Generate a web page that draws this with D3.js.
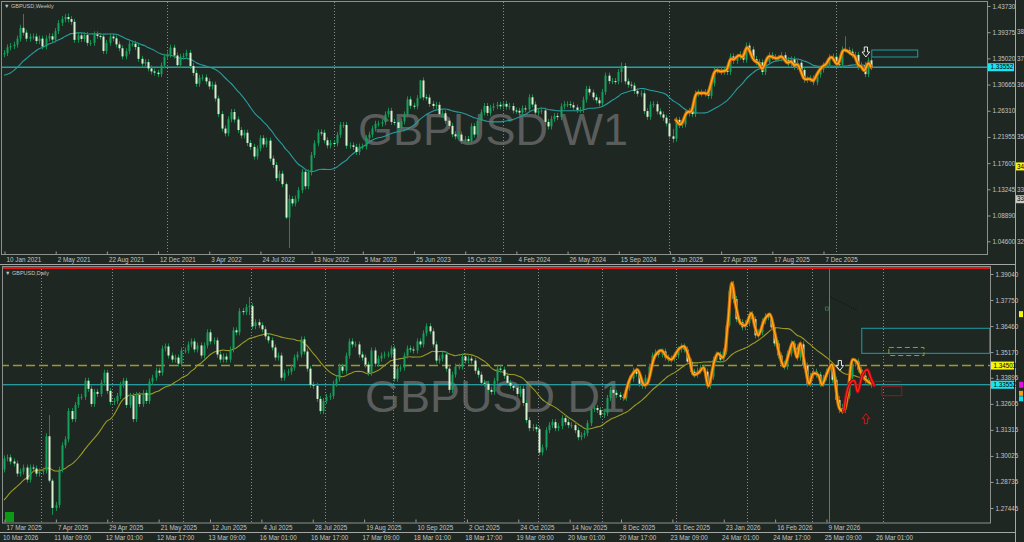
<!DOCTYPE html>
<html>
<head>
<meta charset="utf-8">
<script src="https://cdn.jsdelivr.net/npm/d3@7"></script>
<style>
html, body { margin: 0; padding: 0; background: #1f2722; }
svg { display: block; }
text { font-family: "Liberation Sans", Arial, sans-serif; }
</style>
</head>
<body>
<svg id="chart" width="1024" height="542"></svg>
<script>
// ---- weekly GBPUSD (bar 0 = week of 10 Jan 2021) ----
const weeklyPrior = [1.3350,1.3275,1.2975,1.2930,1.2900,1.2790,1.2935,1.2945,1.3045,1.2960,1.3150,1.3285,1.3250,1.3325,1.3450,1.3440,1.3595,1.3670,1.3570];
const weeklyClose = [
  // 2021
  1.3590,1.3685,1.3705,1.3730,1.3830,1.4010,1.3930,1.3830,1.3865,1.3865,1.3790,1.3830,1.3700,1.3835,1.3870,1.3815,1.3955,1.4090,1.4155,1.4190,1.4155,1.4110,1.3810,1.3885,1.3825,1.3890,1.3760,1.3760,1.3900,1.3875,1.3865,1.3625,1.3760,1.3865,1.3835,1.3735,1.3670,1.3535,1.3620,1.3745,1.3745,1.3690,1.3495,1.3415,1.3440,1.3335,1.3285,1.3265,1.3240,1.3385,1.3530,
  // 2022
  1.3565,1.3680,1.3550,1.3390,1.3530,1.3540,1.3595,1.3375,1.3260,1.3080,1.3180,1.3185,1.3120,1.3035,1.3065,1.2835,1.2575,1.2335,1.2255,1.2490,1.2610,1.2485,1.2310,1.2220,1.2265,1.2095,1.2030,1.1870,1.2005,1.2175,1.2070,1.2135,1.1835,1.1730,1.1510,1.1585,1.1410,1.0855,1.1165,1.1090,1.1170,1.1310,1.1615,1.1375,1.1605,1.1895,1.2090,1.2270,1.2265,1.2140,1.2055,1.2095,
  // 2023
  1.2090,1.2230,1.2395,1.2395,1.2050,1.2055,1.2030,1.1945,1.2035,1.2035,1.2175,1.2235,1.2335,1.2415,1.2415,1.2440,1.2570,1.2630,1.2445,1.2440,1.2345,1.2455,1.2570,1.2820,1.2715,1.2705,1.2840,1.3135,1.2855,1.2850,1.2745,1.2710,1.2730,1.2575,1.2590,1.2465,1.2380,1.2240,1.2205,1.2235,1.2130,1.2160,1.2125,1.2375,1.2235,1.2460,1.2605,1.2710,1.2595,1.2680,1.2705,1.2730,
  // 2024
  1.2705,1.2745,1.2700,1.2710,1.2635,1.2630,1.2600,1.2670,1.2655,1.2855,1.2735,1.2600,1.2625,1.2635,1.2445,1.2370,1.2495,1.2545,1.2525,1.2705,1.2740,1.2740,1.2725,1.2685,1.2645,1.2645,1.2815,1.2995,1.2935,1.2855,1.2805,1.2755,1.2945,1.3215,1.3125,1.3125,1.3120,1.3275,1.3375,1.3120,1.3065,1.3050,1.2960,1.2915,1.2920,1.2625,1.2530,1.2735,1.2740,1.2620,1.2570,1.2515,
  // 2025
  1.2420,1.2205,1.2165,1.2480,1.2395,1.2405,1.2585,1.2630,1.2575,1.2915,1.2935,1.2915,1.2940,1.2880,1.3085,1.3295,1.3310,1.3275,1.3300,1.3275,1.3535,1.3460,1.3530,1.3570,1.3480,1.3715,1.3650,1.3490,1.3440,1.3435,1.3275,1.3445,1.3555,1.3525,1.3505,1.3500,1.3555,1.3475,1.3405,1.3485,1.3360,1.3430,1.3310,1.3145,1.3155,1.3170,1.3105,1.3230,1.3315,1.3385,1.3390,1.3520,1.3530,
  // 2026
  1.3405,1.3395,1.3650,1.3640,1.3615,1.3560,1.3560,1.3360,1.3390,1.3240,1.3470,1.3355
];
// [bar, high, low] for the bars with long shadows
const weeklyWicks = [[6,1.4240,1.3880],[20,1.4250,1.4100],[88,1.1440,1.0830],[89,1.1235,1.0350],[130,1.3145,1.2830],[193,1.3435,1.3100],[209,1.2330,1.2100],[263,1.3870,1.3600]];
const weeklyDates = ['10 Jan 2021','2 May 2021','22 Aug 2021','12 Dec 2021','3 Apr 2022','24 Jul 2022','13 Nov 2022','5 Mar 2023','25 Jun 2023','15 Oct 2023','4 Feb 2024','26 May 2024','15 Sep 2024','5 Jan 2025','27 Apr 2025','17 Aug 2025','7 Dec 2025'];
const weeklyPriceTicks = [1.43730,1.39375,1.35020,1.30665,1.26310,1.21955,1.17600,1.13245,1.08890,1.04600];

// ---- daily GBPUSD (bar 0 = 17 Mar 2025) ----
const dailyPrior = [1.2615,1.2590,1.2665,1.2630,1.2625,1.2630,1.2655,1.2670,1.2580,1.2795,1.2905,1.2895,1.2915,1.2890,1.2920,1.2880,1.2945,1.2935,1.2935];
const dailyClose = [
  1.2990,1.2995,1.2975,1.2965,1.2915, 1.2925,1.2945,1.2885,1.2945,1.2940, 1.2915,1.2925,1.2930,1.3100,1.2880, 1.2745,1.2760,1.2935,1.3055,1.3085,
  1.3225,1.3185,1.3255,1.3295,1.3295, 1.3375,1.3335,1.3260,1.3320,1.3310, 1.3365,1.3415,1.3325,1.3270,1.3275, 1.3300,1.3355,1.3375,1.3255,1.3300,
  1.3185,1.3305,1.3260,1.3315,1.3275, 1.3370,1.3390,1.3425,1.3415,1.3535, 1.3545,1.3500,1.3480,1.3490,1.3460, 1.3525,1.3525,1.3555,1.3570,1.3530,
  1.3550,1.3500,1.3550,1.3615,1.3570, 1.3575,1.3505,1.3480,1.3495,1.3480, 1.3530,1.3625,1.3615,1.3720,1.3715, 1.3740,1.3745,1.3645,1.3665,1.3650,
  1.3630,1.3595,1.3575,1.3540,1.3490, 1.3500,1.3390,1.3415,1.3420,1.3440, 1.3490,1.3505,1.3580,1.3520,1.3435, 1.3355,1.3350,1.3285,1.3225,1.3275,
  1.3295,1.3300,1.3360,1.3385,1.3445, 1.3425,1.3500,1.3570,1.3555,1.3555, 1.3505,1.3490,1.3455,1.3415,1.3525, 1.3460,1.3485,1.3500,1.3505,1.3505,
  1.3535,1.3385,1.3435,1.3440,1.3500, 1.3535,1.3530,1.3525,1.3570,1.3555, 1.3610,1.3645,1.3620,1.3555,1.3475, 1.3485,1.3505,1.3435,1.3330,1.3405,
  1.3445,1.3445,1.3495,1.3475,1.3485, 1.3475,1.3425,1.3405,1.3365,1.3360, 1.3330,1.3320,1.3375,1.3435,1.3430, 1.3400,1.3365,1.3350,1.3340,1.3310,
  1.3335,1.3265,1.3180,1.3140,1.3145, 1.3135,1.3020,1.3045,1.3130,1.3155, 1.3170,1.3140,1.3150,1.3190,1.3170, 1.3155,1.3155,1.3130,1.3095,1.3105,
  1.3115,1.3165,1.3235,1.3240,1.3230,
  1.3205,1.3215,1.3290,1.3330,1.3315, 1.3305,1.3295,1.3290,1.3340,1.3385, 1.3425,1.3410,1.3360,1.3350,1.3390, 1.3445,1.3500,1.3515,1.3505,1.3520,
  1.3490,1.3480,1.3485,1.3500,1.3530, 1.3545,1.3530,1.3470,1.3420,1.3405, 1.3425,1.3440,1.3420,1.3350,1.3395, 1.3480,1.3505,1.3480,1.3520,1.3650,
  1.3820,1.3780,1.3680,1.3665,1.3640, 1.3660,1.3705,1.3680,1.3600,1.3615, 1.3670,1.3695,1.3690,1.3640,1.3560, 1.3500,1.3460,1.3445,1.3510,1.3560,
  1.3540,1.3490,1.3555,1.3450,1.3360, 1.3400,1.3420,1.3405,1.3360,1.3390, 1.3420,1.3445,1.3380,1.3280,1.3240, 1.3230,1.3300,1.3390,1.3460,1.3470,
  1.3430,1.3400,1.3375,1.3365,1.3355
];
const dailyWicks = [[14,1.3205,1.2870],[15,1.2890,1.2710],[76,1.3790,1.3700],[225,1.3830,1.3640],[226,1.3870,1.3760],[259,1.3300,1.3215],[260,1.3260,1.3210]];
const dailyDates = ['17 Mar 2025','7 Apr 2025','29 Apr 2025','21 May 2025','12 Jun 2025','4 Jul 2025','28 Jul 2025','19 Aug 2025','10 Sep 2025','2 Oct 2025','24 Oct 2025','14 Nov 2025','8 Dec 2025','31 Dec 2025','23 Jan 2026','16 Feb 2026','9 Mar 2026'];
const dailyPriceTicks = [1.39040,1.37750,1.36460,1.35170,1.33895,1.32605,1.31315,1.30025,1.28735,1.27445];
// smoothed swing line and the short red one, [bar, price]
const dailySwing = [[192.5,1.3290],[194.5,1.3395],[196.5,1.3430],[198.5,1.3355],[199.5,1.3360],[202,1.3500],[204,1.3525],[205.5,1.3495],[207,1.3480],[209.5,1.3535],[211,1.3545],[212.5,1.3490],[214,1.3405],[215.5,1.3415],[217,1.3440],[218.5,1.3350],[220.5,1.3480],[221.5,1.3510],[223,1.3490],[224.5,1.3650],[225.8,1.3860],[227,1.3750],[228.5,1.3660],[230,1.3650],[231.8,1.3710],[233,1.3640],[234,1.3600],[236,1.3680],[237.5,1.3705],[239,1.3620],[240.5,1.3510],[242,1.3445],[243.5,1.3510],[244.7,1.3565],[246,1.3490],[247,1.3560],[248.5,1.3450],[249.8,1.3360],[251,1.3410],[252.5,1.3405],[253.8,1.3355],[255,1.3400],[256.8,1.3455],[258,1.3350],[259.3,1.3235],[260.5,1.3225],[262,1.3340],[263.3,1.3480],[264.5,1.3470],[266,1.3410],[268,1.3370],[269.5,1.3360]];
const dailyRed = [[260.5,1.3225],[262.5,1.3365],[263.8,1.3375],[264.8,1.3320],[266.5,1.3410],[267.8,1.3430],[269,1.3385],[270,1.3350]];

// ---- levels and objects ----
const bidLevel = 1.33552;
const dashLevel = 1.34503;
const hourlyDates = ['10 Mar 2026','11 Mar 09:00','12 Mar 01:00','12 Mar 17:00','13 Mar 09:00','16 Mar 01:00','16 Mar 17:00','17 Mar 09:00','18 Mar 01:00','18 Mar 17:00','19 Mar 09:00','20 Mar 01:00','20 Mar 17:00','23 Mar 09:00','24 Mar 01:00','24 Mar 17:00','25 Mar 09:00','26 Mar 01:00'];
const sideLabels = [['38',1.39375],['37',1.35020],['36',1.30665],['35',1.21955],['33',1.13245],['32',1.04600]];

const W = 1024, H = 542;
const bg = '#1f2722';
const axisColor = '#c2c4c2';
const borderColor = '#8d918e';
const bullColor = '#15a05c', bearColor = '#d6f2cf', wickColor = '#188d50';

const svg = d3.select('#chart');
svg.append('rect').attr('width', W).attr('height', H).attr('fill', bg);

// scales
const xW = d3.scaleLinear().domain([0, 256]).range([4, 823]);
const yW = d3.scaleLinear().domain([1.04600, 1.43730]).range([241.3, 6]);
const xD = d3.scaleLinear().domain([0, 255]).range([4, 826]);
const yD = d3.scaleLinear().domain([1.27445, 1.39040]).range([508, 274]);

const defs = svg.append('defs');
defs.append('clipPath').attr('id', 'clipW').append('rect').attr('x', 2).attr('y', 2).attr('width', 985).attr('height', 252);
defs.append('clipPath').attr('id', 'clipD').append('rect').attr('x', 3).attr('y', 269).attr('width', 987).attr('height', 254);

const gW = svg.append('g').attr('clip-path', 'url(#clipW)');
const gD = svg.append('g').attr('clip-path', 'url(#clipD)');

function toCandles(prior, closes) {
  let prev = prior[prior.length - 1];
  return closes.map((c, i) => { const o = prev; prev = c; return { i, o, c }; });
}
function sma(prior, closes, n) {
  const all = prior.concat(closes);
  return closes.map((c, i) => {
    const k = i + prior.length;
    return [i, d3.mean(all.slice(Math.max(0, k - n + 1), k + 1))];
  });
}

// period separators (dotted): new year on weekly, new month on daily
const weekStart = new Date(2021, 0, 10);
const yearBars = d3.range(1, weeklyClose.length).filter(i =>
  d3.timeWeek.offset(weekStart, i).getFullYear() !== d3.timeWeek.offset(weekStart, i - 1).getFullYear());
gW.selectAll('line.sep').data(yearBars).join('line')
  .attr('x1', d => Math.round(xW(d)) + 0.5).attr('x2', d => Math.round(xW(d)) + 0.5)
  .attr('y1', 2).attr('y2', 254)
  .attr('stroke', '#8a8a8a').attr('stroke-dasharray', '1,2');

const dayDates = [];
{ let d = new Date(2025, 2, 17); while (dayDates.length < 290) { const w = d.getDay(); if (w !== 0 && w !== 6) dayDates.push(new Date(d)); d = d3.timeDay.offset(d, 1); } }
const monthBars = d3.range(1, dayDates.length).filter(i => dayDates[i].getMonth() !== dayDates[i - 1].getMonth());
gD.selectAll('line.sep').data(monthBars).join('line')
  .attr('x1', d => Math.round(xD(d)) + 2.5).attr('x2', d => Math.round(xD(d)) + 2.5)
  .attr('y1', 269).attr('y2', 523)
  .attr('stroke', '#8a8a8a').attr('stroke-dasharray', '1,2');

// watermarks
gW.append('text').attr('x', 493).attr('y', 145).attr('text-anchor', 'middle')
  .attr('font-size', 45).attr('fill', '#707070').attr('fill-opacity', 0.75).text('GBPUSD W1');
gD.append('text').attr('x', 495).attr('y', 412).attr('text-anchor', 'middle')
  .attr('font-size', 45).attr('fill', '#707070').attr('fill-opacity', 0.75).text('GBPUSD D1');

// level lines
gW.append('line').attr('x1', 0).attr('x2', 987).attr('y1', yW(bidLevel)).attr('y2', yW(bidLevel))
  .attr('stroke', '#1fa3a6').attr('stroke-width', 1.6);
gD.append('line').attr('x1', 0).attr('x2', 990).attr('y1', yD(dashLevel)).attr('y2', yD(dashLevel))
  .attr('stroke', '#9c9a2c').attr('stroke-width', 1.4).attr('stroke-dasharray', '9,4');
gD.append('line').attr('x1', 0).attr('x2', 990).attr('y1', yD(bidLevel)).attr('y2', yD(bidLevel))
  .attr('stroke', '#2cc0c8').attr('stroke-width', 1.2);
// vertical line at H1 start
gD.append('line').attr('x1', Math.round(xD(256)) + 0.5).attr('x2', Math.round(xD(256)) + 0.5)
  .attr('y1', 269).attr('y2', 523).attr('stroke', '#2e9a44').attr('stroke-width', 1);

function drawCandles(g, data, x, y, wicks) {
  const wm = new Map(wicks.map(w => [w[0], w]));
  const hi = d => wm.has(d.i) ? y(wm.get(d.i)[1]) : y(Math.max(d.o, d.c)) - 3;
  const lo = d => wm.has(d.i) ? y(wm.get(d.i)[2]) : y(Math.min(d.o, d.c)) + 3;
  g.append('g').selectAll('line').data(data).join('line')
    .attr('x1', d => Math.round(x(d.i)) + 0.5).attr('x2', d => Math.round(x(d.i)) + 0.5)
    .attr('y1', hi).attr('y2', lo)
    .attr('stroke', wickColor).attr('stroke-width', 1);
  g.append('g').selectAll('rect').data(data).join('rect')
    .attr('x', d => Math.round(x(d.i)) - 0.5)
    .attr('width', 2)
    .attr('y', d => y(Math.max(d.o, d.c)))
    .attr('height', d => Math.max(1, y(Math.min(d.o, d.c)) - y(Math.max(d.o, d.c))))
    .attr('fill', d => d.c >= d.o ? bullColor : bearColor);
}

// moving averages
const maLine = (x, y) => d3.line().x(d => x(d[0])).y(d => y(d[1])).curve(d3.curveMonotoneX);
gW.append('path').attr('d', maLine(xW, yW)(sma(weeklyPrior, weeklyClose, 20)))
  .attr('fill', 'none').attr('stroke', '#279d9f').attr('stroke-width', 1.1);
gD.append('path').attr('d', maLine(xD, yD)(sma(dailyPrior, dailyClose, 20)))
  .attr('fill', 'none').attr('stroke', '#9b9a24').attr('stroke-width', 1.1);

drawCandles(gW, toCandles(weeklyPrior, weeklyClose), xW, yW, weeklyWicks);
drawCandles(gD, toCandles(dailyPrior, dailyClose), xD, yD, dailyWicks);

function glowLine(g, pts, x, y, outer, inner, curve) {
  const line = d3.line().x(d => x(d[0])).y(d => y(d[1])).curve(curve);
  g.append('path').attr('d', line(pts)).attr('fill', 'none').attr('stroke', outer)
    .attr('stroke-width', 3.4).attr('stroke-linejoin', 'round').attr('stroke-linecap', 'round');
  g.append('path').attr('d', line(pts)).attr('fill', 'none').attr('stroke', inner)
    .attr('stroke-width', 1.5).attr('stroke-linejoin', 'round');
}
glowLine(gW, weeklyClose.slice(210).map((c, k) => [210 + k, c]), xW, yW, '#c8650a', '#ffae14', d3.curveBasis);
glowLine(gD, dailySwing, xD, yD, '#c8650a', '#ffae14', d3.curveCatmullRom.alpha(0.5));
glowLine(gD, dailyRed, xD, yD, '#9c0d0d', '#ff2020', d3.curveCatmullRom.alpha(0.5));

// chart objects
function box(g, x, y, i0, i1, p0, p1, stroke, dash) {
  g.append('rect').attr('x', x(i0)).attr('y', y(p1)).attr('width', x(i1) - x(i0)).attr('height', y(p0) - y(p1))
    .attr('fill', 'none').attr('stroke', stroke).attr('stroke-width', 1).attr('stroke-dasharray', dash || null);
}
box(gW, xW, yW, 271.25, 285.6, 1.3525, 1.3641, '#1d9ea6');
box(gD, xD, yD, 266.1, 305.8, 1.3511, 1.3635, '#1d9ea6');
box(gD, xD, yD, 274.5, 285.4, 1.3500, 1.3540, '#9c9a2c', '5,3');
box(gD, xD, yD, 272.3, 278.5, 1.3301, 1.3346, '#8e1a1a');
gD.append('line').attr('x1', xD(269.5)).attr('x2', xD(278.2)).attr('y1', yD(1.3371)).attr('y2', yD(1.3371))
  .attr('stroke', '#8e1a1a').attr('stroke-width', 1);
gD.append('line').attr('x1', xD(256.5)).attr('x2', xD(264.6)).attr('y1', yD(1.37895)).attr('y2', yD(1.37248))
  .attr('stroke', '#0b0f0c').attr('stroke-width', 1).attr('stroke-dasharray', '1,1.5');
gD.append('rect').attr('x', xD(254.8)).attr('y', yD(1.3740)).attr('width', 3).attr('height', 3)
  .attr('fill', 'none').attr('stroke', '#3a7a50').attr('stroke-width', 0.8);

function arrow(g, cx, tip, dir, stroke) {
  const pts = [[-1.6, -10], [1.6, -10], [1.6, -5], [3.8, -5], [0, 0], [-3.8, -5], [-1.6, -5]]
    .map(p => [cx + p[0], tip + p[1] * dir]);
  g.append('path').attr('d', 'M' + pts.join('L') + 'Z').attr('fill', bg).attr('stroke', stroke).attr('stroke-width', 1);
}
arrow(gW, xW(269.4), yW(1.3525), 1, '#e8e8e8');
arrow(gD, xD(259.3), yD(1.3426), 1, '#e8e8e8');
arrow(gD, xD(267.4), yD(1.3212), -1, '#d01818');

// green square bottom left
svg.append('rect').attr('x', 5).attr('y', 512).attr('width', 9).attr('height', 10).attr('fill', '#0a9a14');

// frames
svg.append('rect').attr('x', 1.5).attr('y', 1.5).attr('width', 986).attr('height', 253)
  .attr('fill', 'none').attr('stroke', borderColor);
svg.append('rect').attr('x', 2.5).attr('y', 266.5).attr('width', 988).attr('height', 256.5)
  .attr('fill', 'none').attr('stroke', borderColor);
svg.append('line').attr('x1', 0).attr('x2', 1015).attr('y1', 264.5).attr('y2', 264.5).attr('stroke', '#a4a7a5');
svg.append('line').attr('x1', 0).attr('x2', 1015).attr('y1', 532.5).attr('y2', 532.5).attr('stroke', '#a4a7a5');
svg.append('line').attr('x1', 1015.5).attr('x2', 1015.5).attr('y1', 0).attr('y2', 542).attr('stroke', '#a4a7a5');
svg.append('line').attr('x1', 3).attr('x2', 990).attr('y1', 268).attr('y2', 268).attr('stroke', '#e01515').attr('stroke-width', 2);

// panel titles
svg.append('text').attr('x', 4).attr('y', 8).attr('font-size', 5.5).attr('fill', axisColor).text('\u25BC GBPUSD,Weekly');
svg.append('text').attr('x', 5).attr('y', 275).attr('font-size', 5.5).attr('fill', axisColor).text('\u25BC GBPUSD,Daily');

// price axes
function priceAxis(y, ticks, xLine) {
  const a = svg.append('g').attr('transform', `translate(${xLine},0)`)
    .call(d3.axisRight(y).tickValues(ticks).tickSize(3).tickFormat(d => d.toFixed(5)));
  a.select('.domain').remove();
  a.selectAll('line').attr('stroke', '#9a9a9a');
  a.selectAll('text').attr('fill', axisColor).attr('font-size', 6.3).attr('x', 5);
}
priceAxis(yW, weeklyPriceTicks, 987.5);
priceAxis(yD, dailyPriceTicks, 990.5);

function priceTag(y, p, x0, fill) {
  svg.append('rect').attr('x', x0).attr('y', y(p) - 4).attr('width', 1014 - x0).attr('height', 8).attr('fill', fill);
  svg.append('text').attr('x', x0 + 2.5).attr('y', y(p) + 2.2).attr('font-size', 6.3).attr('fill', '#000').text(p.toFixed(5));
}
priceTag(yW, bidLevel, 988, '#19e6f0');
priceTag(yD, dashLevel, 991, '#f4f40c');
priceTag(yD, bidLevel, 991, '#19e6f0');

// time axes
function timeAxis(scale, labels, yLine, tickUp) {
  const a = svg.append('g').attr('transform', `translate(0,${yLine})`)
    .call(d3.axisBottom(scale).tickValues(d3.range(labels.length)).tickFormat(i => labels[i]).tickSize(tickUp ? -3 : 0));
  a.select('.domain').remove();
  a.selectAll('line').attr('stroke', '#9a9a9a');
  a.selectAll('text').attr('fill', axisColor).attr('font-size', 6.3)
    .attr('text-anchor', 'start').attr('x', 1.5).attr('y', 3).attr('dy', '0.71em');
}
timeAxis(d3.scaleLinear().domain([0, 16]).range([4.5, 823.5]), weeklyDates, 254.5, true);
timeAxis(d3.scaleLinear().domain([0, 16]).range([4.5, 826.5]), dailyDates, 522.5, true);
timeAxis(d3.scaleLinear().domain([0, 17]).range([1, 874]), hourlyDates, 532.5, false);

// neighbouring window, cut at the right edge
svg.selectAll('text.side').data(sideLabels).join('text').attr('class', 'side')
  .attr('x', 1017).attr('y', d => yW(d[1]) + 2.2).attr('font-size', 6.3).attr('fill', axisColor).text(d => d[0]);
svg.append('rect').attr('x', 1016).attr('y', yW(1.17050) - 4).attr('width', 8).attr('height', 8).attr('fill', '#f4f40c');
svg.append('text').attr('x', 1017).attr('y', yW(1.17050) + 2.2).attr('font-size', 6.3).attr('fill', '#000').text('34');
svg.append('rect').attr('x', 1016).attr('y', yW(1.11600) - 4).attr('width', 8).attr('height', 8).attr('fill', '#c8c8c8');
svg.append('text').attr('x', 1017).attr('y', yW(1.11600) + 2.2).attr('font-size', 6.3).attr('fill', '#000').text('33');
svg.append('rect').attr('x', 1019).attr('y', yD(1.37200)).attr('width', 4).attr('height', 6).attr('fill', '#f4f40c');
svg.append('rect').attr('x', 1019).attr('y', yD(1.33700)).attr('width', 4).attr('height', 6).attr('fill', '#e010e0');
svg.append('rect').attr('x', 1019).attr('y', yD(1.33250)).attr('width', 4).attr('height', 5).attr('fill', '#f0a010');
svg.append('rect').attr('x', 1019).attr('y', yD(1.32980)).attr('width', 4).attr('height', 5).attr('fill', '#10e0f0');
</script>
</body>
</html>
